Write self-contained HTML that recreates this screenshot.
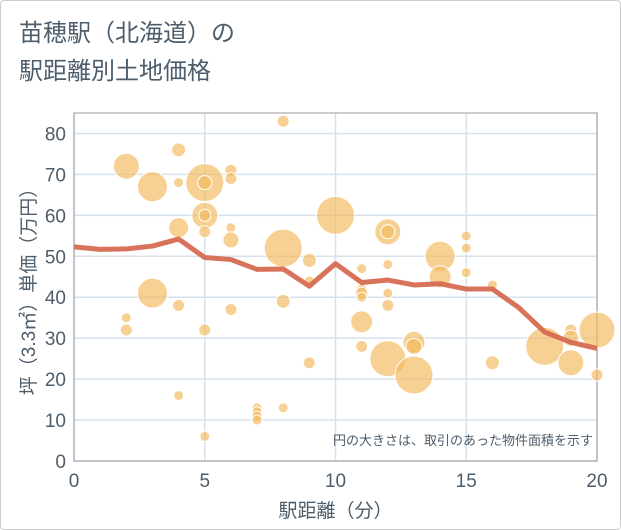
<!DOCTYPE html>
<html><head><meta charset="utf-8"><style>
body{margin:0;background:#fff}
#wrap{position:relative;width:621px;height:530px;background:#fff;border:1px solid #ccc;box-sizing:border-box;border-radius:4px;overflow:hidden}
.t{position:absolute;left:18px;font:24px "Liberation Sans","Noto Sans CJK JP",sans-serif;color:#4d5d6c}
svg text{font-family:"Liberation Sans","Noto Sans CJK JP",sans-serif;fill:#4d5d6c}
</style></head><body>
<div id="wrap">
<div class="t" style="top:12px">苗穂駅（北海道）の</div>
<div class="t" style="top:50px">駅距離別土地価格</div>
<svg id="svg" width="621" height="530" style="position:absolute;left:0;top:0"></svg>
</div>
<script>
const xTicks=[0,5,10,15,20];
const yTicks=[0,10,20,30,40,50,60,70,80];
const bubbleX=[2,2,2,3,3,4,4,4,4,4,5,5,5,5,5,5,5,6,6,6,6,6,7,7,7,7,8,8,8,8,9,9,9,10,11,11,11,11,11,11,12,12,12,12,12,12,13,13,13,14,14,15,15,15,16,16,18,19,19,19,20,20];
const bubbleY=[72,35,32,67,41,76,68,57,38,16,68,68,60,60,56,32,6,71,69,57,54,37,13,12,11,10,83,52,39,13,49,44,24,60,47,42,41,40,34,28,56,56,48,41,38,25,29,28,21,50,45,55,52,46,43,24,28,32,30,24,32,21];
const bubbleSize=[13,5,6,15,15,7,5,10,6,5,19,7,13,6,6,6,5,6,6,5,8,6,5,5,5,5,6,19,7,5,7,5,6,19,5,5,6,5,11,6,13,7,5,5,6,18,11,8,19,15,11,5,5,5,5,7,19,6,8,13,18,6];
const lineX=[0,1,2,3,4,5,6,7,8,9,10,11,12,13,14,15,16,17,18,19,20];
const lineY=[52.3,51.7,51.8,52.5,54.2,49.7,49.2,46.8,46.9,42.7,48.2,43.6,44.2,43.0,43.3,42.0,42.0,37.5,31.5,29,27.5];
const L=73,R=596,T=112,B=460;
const sx=v=>L+(v-0)/20*(R-L);
const sy=v=>B-v/85*(B-T);
const s=document.getElementById('svg');
const NS='http://www.w3.org/2000/svg';
function mk(t,a){const e=document.createElementNS(NS,t);for(const k in a)e.setAttribute(k,a[k]);s.appendChild(e);return e;}
yTicks.forEach(v=>{const g=mk('line',{x1:L,x2:R,y1:sy(v),y2:sy(v),stroke:'#d5e1eb','stroke-width':1.5});


const t=mk('text',{x:L-8,y:sy(v)+7,'text-anchor':'end','font-size':19});t.textContent=v;

});
xTicks.forEach(v=>{const g=mk('line',{x1:sx(v),x2:sx(v),y1:T,y2:B,stroke:'#d5e1eb','stroke-width':1.5});


const t=mk('text',{x:sx(v),y:B+26,'text-anchor':'middle','font-size':19});t.textContent=v;

});
const fr=mk('rect',{x:L,y:T,width:R-L,height:B-T,fill:'none',stroke:'#999','stroke-width':1});


bubbleX.forEach((x,i)=>{const c=mk('circle',{cx:sx(x),cy:sy(bubbleY[i]),r:bubbleSize[i],fill:'#f2b85a','fill-opacity':0.65,stroke:'#fff','stroke-width':1});

});
const p=mk('polyline',{points:lineX.map((x,i)=>sx(x)+','+sy(lineY[i])).join(' '),fill:'none',stroke:'#d66a52','stroke-width':5,'stroke-linejoin':'round','stroke-opacity':0.95});


const note=mk('text',{x:R-4,y:B-16,'text-anchor':'end','font-size':13});note.textContent='円の大きさは、取引のあった物件面積を示す';


const xt=mk('text',{x:(L+R)/2,y:516,'text-anchor':'middle','font-size':19});xt.textContent='駅距離（分）';


const yt=mk('text',{x:0,y:0,'text-anchor':'middle','font-size':19,transform:'translate(34,'+((T+B)/2)+') rotate(-90)'});yt.textContent='坪（3.3㎡）単価（万円）';


</script>
</body></html>
